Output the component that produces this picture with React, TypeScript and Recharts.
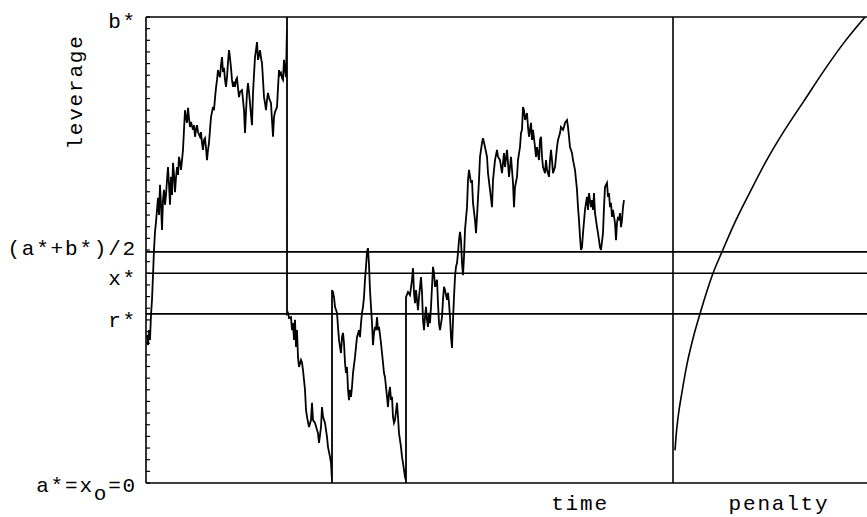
import React from 'react';
import { ComposedChart, Line, XAxis, YAxis, ReferenceLine } from 'recharts';

// leverage levels on the vertical axis (a* = 0, b* = 100)
const LEVEL_TICKS = [0, 36.3, 45, 49.6, 100];
const LEVEL_LABELS = ['a*=x_o=0', 'r*', 'x*', '(a*+b*)/2', 'b*'];
const MINOR_TICKS = [0, 2.5, 5, 7.5, 10, 12.5, 15, 17.5, 20, 22.5, 25, 27.5, 30, 32.5, 35, 37.5, 40, 42.5, 45, 47.5, 50,
  52.5, 55, 57.5, 60, 62.5, 65, 67.5, 70, 72.5, 75, 77.5, 80, 82.5, 85, 87.5, 90, 92.5, 95, 97.5, 100];

// horizontal axis: time steps, then the penalty panel
const AXIS_TICKS = [434, 633];
const AXIS_LABELS = ['time', 'penalty'];
const SEPARATOR = 527;

// leverage path, [time, leverage]
const climbToB: [number, number][] = [
  [1, 31.8], [2, 29.6], [3, 32.8], [4, 30.7], [5, 36.1], [6, 39.3], [7, 44.6], [8, 50.0], [9, 53.9], [10, 56.0],
  [11, 58.6], [12, 61.2], [13, 57.5], [14, 64.0], [15, 59.7], [16, 54.3], [17, 60.7], [18, 62.9], [19, 59.7], [20, 61.8],
  [21, 65.0], [22, 67.8], [23, 64.0], [24, 59.7], [25, 65.7], [26, 61.8], [27, 68.7], [28, 66.1], [29, 62.4], [30, 65.5],
  [31, 67.8], [32, 66.1], [33, 70.0], [34, 68.9], [35, 67.2], [36, 69.3], [37, 71.5], [38, 75.8], [39, 80.0], [40, 78.3],
  [41, 77.3], [42, 80.5], [43, 78.3], [44, 76.4], [45, 77.5], [46, 76.6], [47, 75.8], [48, 76.8], [49, 74.3], [50, 75.8],
  [51, 76.8], [52, 75.3], [54, 74.3], [55, 75.3], [56, 73.0], [57, 71.5], [58, 73.6], [59, 74.0], [60, 71.9], [61, 69.3],
  [62, 71.5], [63, 73.0], [64, 75.8], [65, 78.5], [66, 79.6], [67, 80.7], [68, 80.0], [69, 82.6], [70, 84.8], [71, 86.5],
  [72, 88.6], [73, 87.6], [74, 87.1], [75, 89.7], [76, 91.4], [77, 88.2], [78, 89.1], [79, 86.5], [80, 85.0], [81, 87.1],
  [82, 90.3], [83, 92.9], [84, 91.2], [85, 89.1], [86, 86.5], [87, 85.0], [88, 86.1], [89, 85.0], [90, 86.5], [91, 86.9],
  [92, 84.8], [93, 82.8], [94, 83.9], [96, 84.3], [97, 82.2], [98, 80.0], [99, 75.1], [100, 79.6], [101, 83.7], [102, 85.8],
  [103, 83.9], [104, 81.5], [105, 79.0], [106, 76.8], [107, 83.7], [108, 87.6], [109, 91.4], [110, 92.9], [111, 94.6],
  [112, 90.8], [113, 91.8], [114, 92.9], [115, 91.2], [116, 90.1], [117, 86.5], [118, 82.8], [119, 81.5], [120, 80.0],
  [121, 82.2], [122, 83.7], [123, 82.6], [125, 81.5], [126, 77.9], [127, 74.3], [128, 78.5], [129, 79.6], [131, 80.7],
  [132, 84.8], [133, 88.6], [134, 87.6], [135, 88.0], [136, 86.9], [137, 86.5], [138, 90.8], [139, 88.6], [140, 87.1],
  [141, 97.9], [141, 100],
];
const fallToA: [number, number][] = [
  [141, 36.3], [142, 36.5], [143, 35.4], [145, 35.6], [146, 32.8], [147, 34.3], [148, 30.7], [149, 35.0], [150, 29.2],
  [151, 32.8], [152, 27.0], [153, 24.9], [155, 26.4], [156, 25.8], [157, 24.2], [159, 20.0], [160, 15.7], [161, 14.2],
  [163, 12.0], [165, 13.5], [166, 17.2], [167, 13.5], [169, 12.9], [171, 11.4], [172, 10.7], [173, 8.6], [175, 12.0],
  [176, 16.3], [177, 14.2], [179, 12.9], [181, 9.9], [182, 7.7], [184, 5.6], [185, 4.3], [186, 0.6], [186, 0],
];
const secondSwing: [number, number][] = [
  [186, 41.4], [187, 41.0], [188, 39.9], [189, 37.8], [191, 36.5], [192, 33.5], [193, 30.7], [194, 29.2], [195, 27.9],
  [196, 31.3], [197, 32.2], [198, 30.0], [199, 25.8], [200, 23.6], [201, 24.9], [202, 20.0], [203, 17.8], [204, 20.0],
  [205, 18.5], [206, 20.6], [207, 23.6], [209, 27.0], [210, 29.2], [211, 31.3], [213, 32.8], [214, 31.3], [215, 34.3],
  [216, 36.5], [217, 37.8], [218, 39.9], [219, 43.6], [220, 46.4], [221, 49.6], [222, 50.4], [223, 46.8], [224, 41.4],
  [225, 37.8], [226, 34.3], [227, 29.6], [228, 32.2], [229, 33.5], [230, 32.8], [231, 35.6], [232, 32.8], [233, 33.5],
  [235, 30.0], [236, 27.9], [237, 25.8], [238, 23.6], [239, 22.7], [240, 20.6], [241, 18.5], [242, 16.3], [243, 19.3],
  [244, 20.6], [245, 17.8], [246, 18.5], [247, 14.2], [248, 12.9], [249, 13.5], [251, 17.2], [252, 14.2], [253, 10.7],
  [254, 9.2], [255, 7.7], [256, 5.6], [257, 4.3], [258, 2.8], [259, 1.3], [260, 0.6], [260, 0],
];
const finalClimb: [number, number][] = [
  [260, 39.9], [262, 41.0], [264, 40.3], [266, 43.6], [267, 46.1], [268, 40.8], [269, 38.6], [270, 41.4], [271, 39.3],
  [272, 37.1], [273, 39.9], [275, 44.2], [276, 40.8], [277, 35.0], [278, 32.8], [279, 35.6], [280, 37.8], [281, 35.0],
  [282, 33.5], [283, 36.5], [284, 34.3], [285, 37.8], [286, 42.1], [287, 46.4], [288, 45.1], [289, 42.1], [291, 43.6],
  [292, 38.6], [293, 34.3], [294, 32.8], [296, 35.6], [297, 39.3], [298, 42.1], [299, 41.4], [301, 39.3], [302, 40.8],
  [303, 38.6], [304, 35.6], [305, 31.3], [306, 29.0], [307, 35.0], [308, 39.9], [309, 44.2], [310, 46.4], [311, 47.2],
  [312, 49.4], [313, 52.1], [314, 53.9], [315, 52.1], [316, 47.2], [317, 44.6], [318, 48.5], [319, 54.3], [321, 59.2],
  [322, 65.0], [323, 67.2], [325, 64.4], [326, 65.0], [327, 60.1], [329, 56.4], [330, 53.6], [331, 57.1], [333, 65.0],
  [334, 70.0], [336, 73.0], [337, 74.0], [339, 72.1], [341, 70.0], [342, 66.5], [344, 62.9], [346, 59.2], [347, 65.0],
  [349, 69.3], [351, 71.5], [352, 70.0], [354, 69.3], [356, 66.5], [357, 68.7], [358, 70.8], [359, 67.8], [361, 71.5],
  [362, 68.7], [363, 65.7], [365, 70.0], [367, 64.4], [368, 59.2], [369, 63.5], [371, 65.7], [372, 69.3], [374, 72.1],
  [375, 75.1], [376, 75.8], [377, 80.7], [378, 80.0], [379, 77.9], [381, 79.4], [382, 76.4], [383, 74.3], [384, 75.8],
  [385, 77.3], [386, 73.6], [387, 75.8], [389, 72.1], [390, 70.0], [391, 72.1], [393, 69.3], [394, 73.6], [395, 74.3],
  [396, 70.0], [397, 67.8], [399, 66.5], [400, 69.3], [401, 67.2], [403, 65.7], [404, 69.3], [405, 71.5], [406, 69.3],
  [407, 66.5], [409, 67.8], [411, 72.1], [412, 73.6], [414, 75.1], [415, 76.4], [417, 75.8], [418, 76.4], [419, 77.3],
  [421, 77.9], [422, 76.4], [423, 74.3], [424, 72.1], [426, 70.8], [427, 69.3], [429, 67.2], [431, 62.9], [432, 59.2],
  [433, 56.4], [434, 52.8], [435, 50.0], [436, 50.6], [437, 53.6], [439, 58.6], [440, 60.1], [441, 61.4], [442, 58.6],
  [443, 62.2], [445, 59.2], [446, 60.7], [447, 58.6], [448, 62.2], [449, 57.9], [451, 54.9], [452, 53.6], [454, 50.6],
  [455, 50.0], [457, 53.6], [458, 59.2], [459, 63.5], [461, 64.4], [462, 61.4], [463, 62.2], [464, 59.2], [465, 60.1],
  [466, 57.1], [467, 58.6], [469, 55.8], [470, 52.1], [471, 55.8], [472, 57.1], [473, 56.4], [474, 57.9], [475, 54.9],
  [476, 56.4], [477, 59.2], [478, 60.7],
];

// penalty curve, [penalty axis position, leverage]
const PENALTY_X = [529, 530, 532, 536, 541, 547, 554, 567, 576, 588, 603, 620, 638, 658, 678, 698, 719];
const PENALTY_V = [7.0, 9.9, 14.0, 19.5, 25.5, 31.0, 36.3, 45.0, 49.6, 55.5, 62.0, 69.0, 75.5, 82.0, 88.5, 94.5, 100];

const pathData = [...climbToB, ...fallToA, ...secondSwing, ...finalClimb].map(([t, v]) => ({ t, v }));
const penaltyData = PENALTY_X.map((t, i) => ({ t, v: PENALTY_V[i] }));
const allYTicks = Array.from(new Set([...MINOR_TICKS, ...LEVEL_TICKS])).sort((a, b) => a - b);

const FONT = "'Liberation Mono', 'Courier New', 'DejaVu Sans Mono', monospace";
const FS = 21;
const LS = 1.8;
const TICK_GAP = 9;
const MINOR_LEN = 4;
const LEVEL_DY = [9, 13, 12, 3, 11];

function LevelTick(props: any) {
  const { x, y, payload } = props;
  const axisX = x + TICK_GAP;
  const isMinor = MINOR_TICKS.indexOf(payload.value) >= 0;
  const mark = isMinor ? (
    <line x1={axisX} x2={axisX + MINOR_LEN} y1={y} y2={y} stroke="#000" strokeWidth={1.2} />
  ) : null;
  const i = LEVEL_TICKS.indexOf(payload.value);
  if (i < 0) return <g>{mark}</g>;
  const label = LEVEL_LABELS[i];
  const parts = label.split('_');
  const common = { x, y: y + LEVEL_DY[i], textAnchor: 'end' as const, fontFamily: FONT, fontSize: FS, letterSpacing: LS, fill: '#000' };
  return (
    <g>
      {mark}
      {parts.length === 2 ? (
        <text {...common}>
          <tspan>{parts[0]}</tspan>
          <tspan dy={8}>{parts[1].charAt(0)}</tspan>
          <tspan dy={-8}>{parts[1].slice(1)}</tspan>
        </text>
      ) : (
        <text {...common}>{label}</text>
      )}
    </g>
  );
}

function AxisTick(props: any) {
  const { x, y, payload } = props;
  const i = AXIS_TICKS.indexOf(payload.value);
  if (i < 0) return <g />;
  return (
    <text x={x} y={y + 27} textAnchor="middle" fontFamily={FONT} fontSize={FS} letterSpacing={LS} fill="#000">
      {AXIS_LABELS[i]}
    </text>
  );
}

function LeverageLabel(props: any) {
  const vb = props.viewBox || { x: 0, y: 17 };
  const cx = vb.x + 82;
  const cy = vb.y + 75;
  return (
    <text x={cx} y={cy} transform={`rotate(-90, ${cx}, ${cy})`} textAnchor="middle" fontFamily={FONT}
      fontSize={FS} letterSpacing={LS} fill="#000">
      leverage
    </text>
  );
}

export default function App() {
  return (
    <div style={{ position: 'fixed', left: 0, top: 0, width: 867, height: 517, background: '#fff' }}>
      <ComposedChart width={867} height={517} margin={{ top: 17, right: 0, bottom: 0, left: 0 }}>
        <XAxis type="number" dataKey="t" domain={[0, 721]} ticks={AXIS_TICKS} interval={0} height={34}
          tickLine={false} tickSize={0} tickMargin={0} axisLine={{ stroke: '#000', strokeWidth: 1.6 }}
          tick={AxisTick} allowDataOverflow />
        <YAxis yAxisId="lev" type="number" domain={[0, 100]} ticks={allYTicks} interval={0} width={146}
          tickLine={false} tickSize={0} tickMargin={TICK_GAP} axisLine={{ stroke: '#000', strokeWidth: 1.6 }}
          tick={LevelTick} label={{ value: 'leverage', content: LeverageLabel }} allowDataOverflow />
        <ReferenceLine yAxisId="lev" y={100} stroke="#000" strokeWidth={1.6} />
        <ReferenceLine yAxisId="lev" y={49.6} stroke="#000" strokeWidth={1.6} />
        <ReferenceLine yAxisId="lev" y={45} stroke="#000" strokeWidth={1.6} />
        <ReferenceLine yAxisId="lev" y={36.3} stroke="#000" strokeWidth={1.6} />
        <ReferenceLine yAxisId="lev" x={SEPARATOR} stroke="#000" strokeWidth={1.6} />
        <Line yAxisId="lev" data={pathData} dataKey="v" type="linear" dot={false} activeDot={false}
          stroke="#000" strokeWidth={1.8} isAnimationActive={false} />
        <Line yAxisId="lev" data={penaltyData} dataKey="v" type="monotone" dot={false} activeDot={false}
          stroke="#000" strokeWidth={1.6} isAnimationActive={false} />
      </ComposedChart>
    </div>
  );
}
